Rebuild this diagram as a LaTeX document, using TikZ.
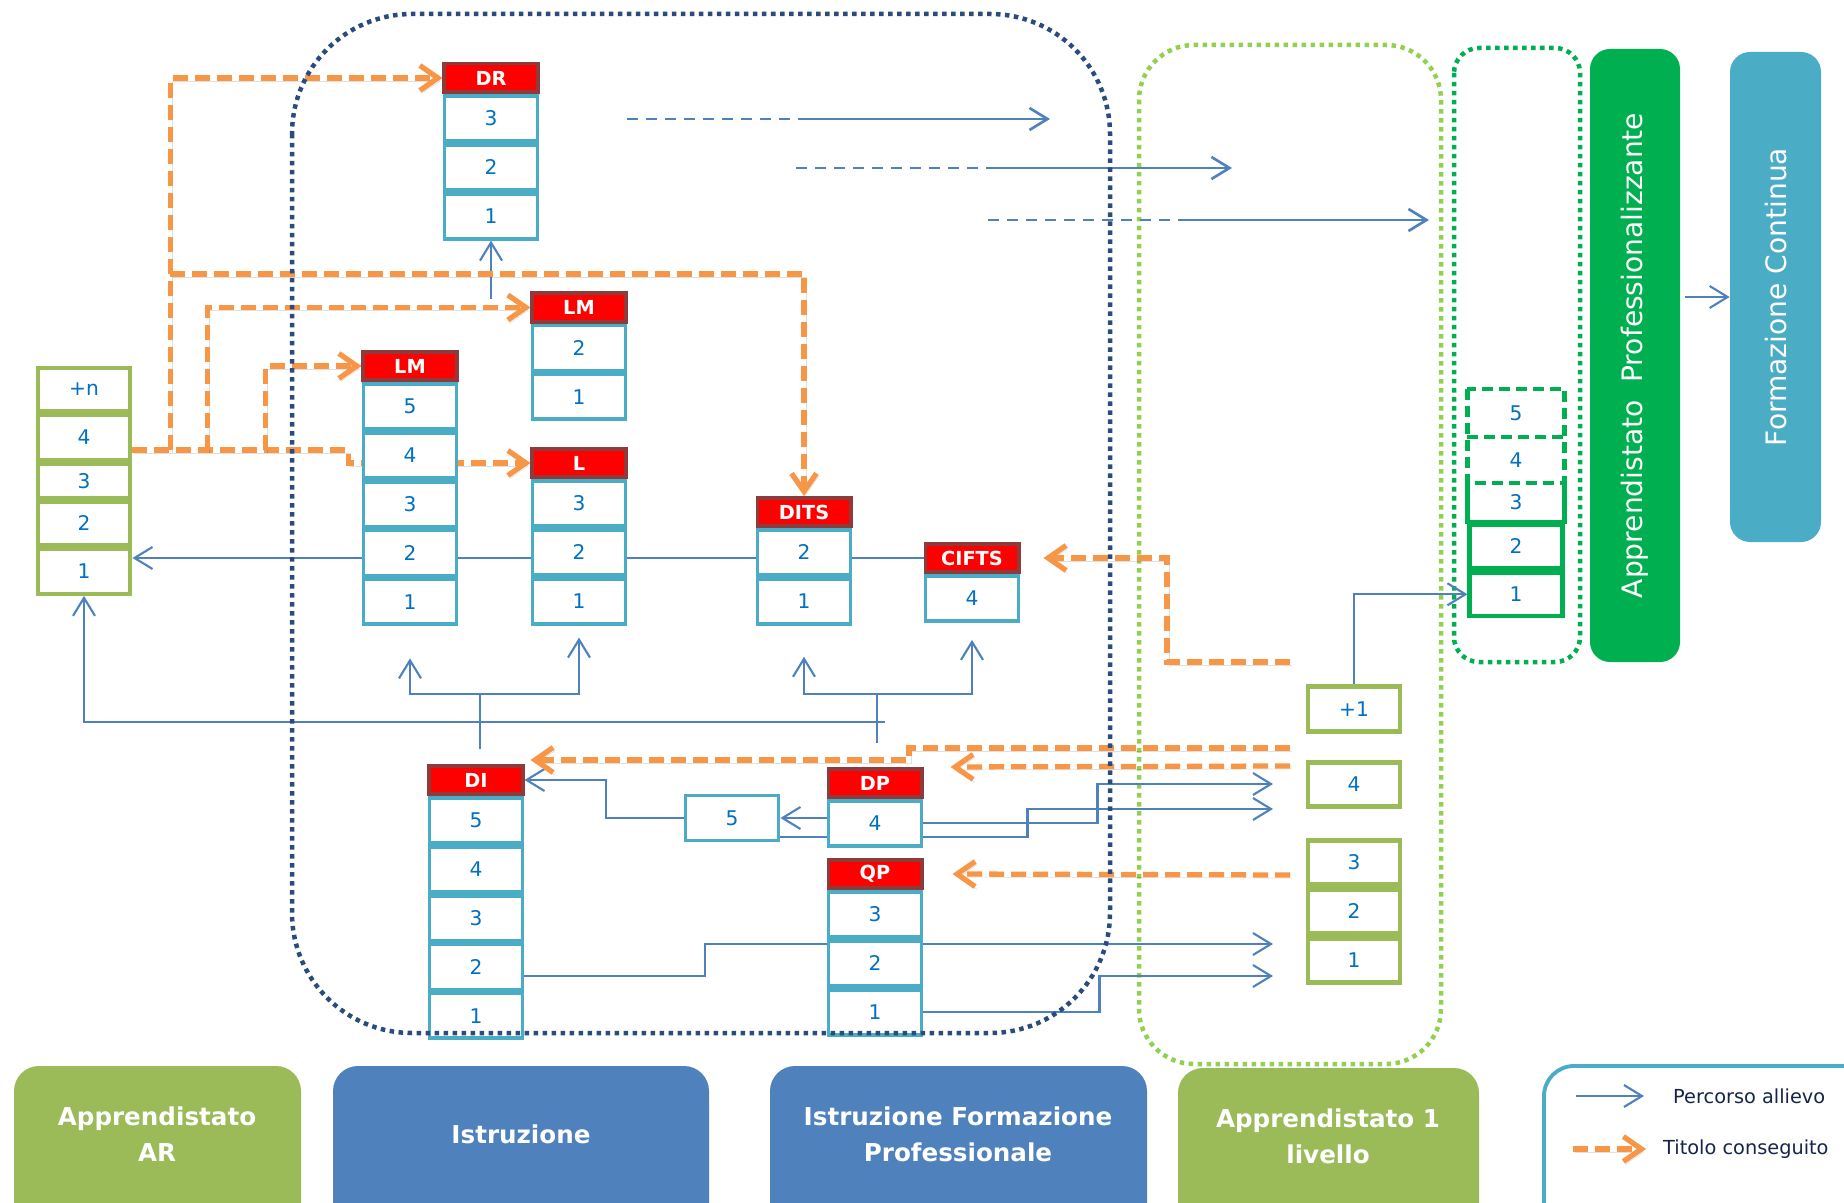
\documentclass[tikz,border=0pt]{standalone}
\usepackage{fontspec}
\setmainfont{DejaVu Sans}
\usepackage{graphicx}
\usepackage{tikz}
\usetikzlibrary{%
	arrows.meta,%
	positioning,%
	backgrounds%
}
\definecolor{Teal}{HTML}{4BACC6}
\definecolor{Olive}{HTML}{9BBB59}
\definecolor{Leaf}{HTML}{00B050}
\definecolor{Lime}{HTML}{92D050}
\definecolor{Steel}{HTML}{4F81BD}
\definecolor{Navy}{HTML}{2A4B7C}
\definecolor{Tangerine}{HTML}{F79646}
\definecolor{Crimson}{HTML}{FF0000}
\definecolor{Maroon}{HTML}{8E3B3B}
\definecolor{Digit}{HTML}{0070C0}
\definecolor{Ink}{HTML}{17244A}

\tikzset{
	cell/.style={draw=Teal,line width=2.2pt,fill=white,minimum width=1.86cm,minimum height=0.90cm,inner sep=0pt,text=Digit,font=\fontsize{11.5}{13}\selectfont},
	head/.style={draw=Maroon,line width=2pt,fill=Crimson,minimum width=1.87cm,minimum height=0.57cm,inner sep=0pt,text=white,font=\bfseries\fontsize{11}{13}\selectfont},
	gcell/.style={cell,draw=Olive,line width=2.4pt,minimum width=1.855cm},
	rcell/.style={cell,draw=Olive,line width=2.8pt,minimum width=1.84cm,minimum height=0.88cm},
	pcell/.style={cell,draw=Leaf,line width=2.6pt,minimum width=1.85cm},
	link/.style={draw=Steel,line width=1.2pt},
	flow/.style={link,-{Straight Barb[length=3.6mm,width=4.4mm]}},
	gained/.style={draw=Tangerine,line width=3pt,dash pattern=on 3mm off 1.4mm,-{Straight Barb[length=3.6mm,width=5mm]},
		preaction={draw=black,opacity=0.12,transform canvas={shift={(0.4mm,-0.6mm)}}}},
	ring/.style={line width=0.9mm,dash pattern=on 0.9mm off 0.9mm},
	boxtext/.style={text=white,align=center,font=\bfseries\fontsize{14}{20.5}\selectfont},
	sidetext/.style={inner sep=0pt,text=white,font=\fontsize{16}{19}\selectfont},
	legendtext/.style={text=Ink,font=\fontsize{11}{13}\selectfont}
}

\begin{document}
\begin{tikzpicture}[x=0.2mm,y=-0.2mm]
\useasboundingbox (0,0) rectangle (1844,1203);

% Istruzione
\node [head] (drh) at (491,78) {DR};
\foreach \n/\p in {3/drh,2/dr3,1/dr2} \node [cell,below=0pt of \p] (dr\n) {\n};
\node [head] (lmbh) at (579,307.5) {LM};
\foreach \n/\p in {2/lmbh,1/lmb2} \node [cell,below=0pt of \p] (lmb\n) {\n};
\node [head] (lmah) at (410,366) {LM};
\foreach \n/\p in {5/lmah,4/lma5,3/lma4,2/lma3,1/lma2} \node [cell,below=0pt of \p] (lma\n) {\n};
\node [head] (lh) at (579,463) {L};
\foreach \n/\p in {3/lh,2/l3,1/l2} \node [cell,below=0pt of \p] (l\n) {\n};
\node [head] (dih) at (476,780) {DI};
\foreach \n/\p in {5/dih,4/di5,3/di4,2/di3,1/di2} \node [cell,below=0pt of \p] (di\n) {\n};

% IeFP
\node [head] (ditsh) at (804,512) {DITS};
\foreach \n/\p in {2/ditsh,1/dits2} \node [cell,below=0pt of \p] (dits\n) {\n};
\node [head] (cifh) at (972,558) {CIFTS};
\node [cell,below=0pt of cifh] (cif4) {4};
\node [head] (dph) at (875,783) {DP};
\node [cell,below=0pt of dph] (dp4) {4};
\node [head] (qph) at (875,874) {QP};
\foreach \n/\p in {3/qph,2/qp3,1/qp2} \node [cell,below=0pt of \p] (qp\n) {\n};
\node [cell] (box5) at (732,818) {5};

% Apprendistato AR
\node [gcell,minimum height=0.855cm] (gn) at (84,389.5) {+n};
\node [gcell,minimum height=0.895cm,below=0pt of gn] (g4) {4};
\node [gcell,minimum height=0.675cm,below=0pt of g4] (g3) {3};
\node [gcell,minimum height=0.855cm,below=0pt of g3] (g2) {2};
\node [gcell,minimum height=0.895cm,below=0pt of g2] (g1) {1};

% Apprendistato 1 livello
\node [rcell,minimum height=0.9cm] (p1) at (1354,709) {+1};
\node [rcell] (a4) at (1354,784.5) {4};
\node [rcell] (c3) at (1354,862.5) {3};
\node [rcell,below=0pt of c3] (c2) {2};
\node [rcell,below=0pt of c2] (c1) {1};

% Apprendistato professionalizzante
\node [pcell,draw=none,minimum height=0.87cm] (pr5) at (1516,413) {5};
\node [pcell,draw=none,minimum height=0.83cm,below=0pt of pr5] (pr4) {4};
\node [pcell,draw=none,minimum height=0.69cm,below=0pt of pr4] (pr3) {3};
\node [pcell,minimum height=0.87cm,below=0pt of pr3] (pr2) {2};
\node [pcell,minimum height=0.87cm,below=0pt of pr2] (pr1) {1};
\draw [Leaf,line width=2.6pt] (pr3.north west) -- (pr3.south west) -- (pr3.south east) -- (pr3.north east);
\draw [Leaf,line width=2.6pt,dash pattern=on 2.2mm off 1.2mm] (pr5.north west) rectangle (pr4.south east);
\draw [Leaf,line width=2.6pt,dash pattern=on 2.2mm off 1.2mm] (pr5.south west) -- (pr5.south east);

\node [fill=Leaf,rounded corners=4mm,minimum width=1.8cm,minimum height=12.26cm,sidetext] (appr) at (1635,355.5) {\rotatebox{90}{Apprendistato\ \ Professionalizzante}};
\node [fill=Teal,rounded corners=4mm,minimum width=1.82cm,minimum height=9.8cm,sidetext] (form) at (1775.5,297) {\rotatebox{90}{Formazione Continua}};
\draw [flow,shorten <=1mm] (appr.east |- form.west) -- (form.west);

\draw [ring,Navy,rounded corners=24mm] (292,14) rectangle (1110,1033);

% bottom legend boxes
\fill [Olive,rounded corners=5mm] (14,1066) rectangle (301,1240);
\node [boxtext] (ar) at (157,1134) {Apprendistato\\AR};
\fill [Steel,rounded corners=5mm] (333,1066) rectangle (709,1240);
\node [boxtext] (istr) at (521,1134) {Istruzione};
\fill [Steel,rounded corners=5mm] (770,1066) rectangle (1147,1240);
\node [boxtext] (iefp) at (958,1134) {Istruzione Formazione\\Professionale};
\fill [Olive,rounded corners=5mm] (1178,1068) rectangle (1479,1240);
\node [boxtext] (app1) at (1328,1136) {Apprendistato 1\\livello};

\draw [Teal,line width=2.2pt,fill=white,rounded corners=6mm] (1544,1066) rectangle (1880,1240);
\coordinate (lgA) at (1576,1096);
\coordinate (lgB) at (1644,1096);
\draw [flow] (lgA) -- (lgB);
\node [legendtext,anchor=west] (lgFlow) at (1667,1096) {Percorso allievo};
\coordinate (lgC) at (1573,1149);
\coordinate (lgD) at (1646,1149);
\draw [gained] (lgC) -- (lgD);
\node [legendtext,anchor=west] (lgGain) at (1657,1149) {Titolo conseguito};

\begin{scope}[on background layer]
\draw [ring,Lime,rounded corners=11mm] (1139,45) rectangle (1441,1064);
\draw [ring,Leaf,rounded corners=5mm] (1454,48) rectangle (1580,662);

% percorsi
\coordinate (t1a) at (627,119);
\coordinate (t1b) at (803,119);
\coordinate (t1c) at (1050,119);
\coordinate (t2a) at (796,168);
\coordinate (t2b) at (988,168);
\coordinate (t2c) at (1232,168);
\coordinate (t3a) at (988,220);
\coordinate (t3b) at (1185,220);
\coordinate (t3c) at (1429,220);
\foreach \i in {1,2,3} {
	\draw [link,line width=1.5pt,dash pattern=on 2.2mm off 1.6mm] (t\i a) -- (t\i b);
	\draw [flow,line width=1.5pt] (t\i b) -- (t\i c);
}

\draw [flow] (cifh.west) -- (cifh.west -| g1.east);
\coordinate (busR) at (885,722);
\draw [flow] (busR) -| (g1.south);

\coordinate (diTop) at (480,749);
\coordinate (diFork) at (480,694);
\coordinate (lmaIn) at ([yshift=-6.4mm]lma1.south);
\coordinate (lIn) at ([yshift=-2.4mm]l1.south);
\draw [link] (diTop) -- (diFork);
\draw [flow] (diFork) -| (lmaIn);
\draw [flow] (diFork) -| (lIn);

\coordinate (dpTop) at (877,743);
\coordinate (dpFork) at (877,694);
\coordinate (ditsIn) at ([yshift=-6.2mm]dits1.south);
\coordinate (cifIn) at ([yshift=-3.4mm]cif4.south);
\draw [link] (dpTop) -- (dpFork);
\draw [flow] (dpFork) -| (ditsIn);
\draw [flow] (dpFork) -| (cifIn);

\coordinate (drFoot) at ([yshift=-11.6mm]dr1.south);
\draw [flow] (drFoot) -- (dr1.south);

\draw [flow] (box5.west) -- ++(-78,0) |- (dih.east);
\draw [flow] (box5.east -| dp4.west) -- (box5.east);
\coordinate (a4u) at (1273,784);
\coordinate (a4d) at (1273,809);
\draw [flow] (dp4.east) -- ++(174,0) |- (a4u);
\draw [flow] ([yshift=1mm]box5.south east) -- ++(247,0) |- (a4d);
\coordinate (a1u) at (1273,944);
\coordinate (a1d) at (1273,976);
\draw [flow] ([yshift=-1.8mm]di2.east) -- ++(181,0) |- (a1u);
\draw [flow] (qp1.east) -- ++(176,0) |- (a1d);
\draw [flow] (p1.north) |- (pr1.west);

% titoli
\coordinate (tA) at ([yshift=-2.5mm]g4.east);
\coordinate (tB) at ([xshift=7.6mm]tA);
\coordinate (tC) at ([xshift=15mm]tA);
\coordinate (tD) at ([xshift=26.6mm]tA);
\coordinate (tE) at ([yshift=35.2mm]tB);
\draw [gained] (tA) -- ++(216,0) |- (lh.west);
\draw [gained] (tB) |- (drh.west);
\draw [gained] (tE) -| (ditsh.north);
\draw [gained] (tC) |- (lmbh.west);
\draw [gained] (tD) |- (lmah.west);

\coordinate (oC) at (1290,662);
\coordinate (oI) at (1290,748);
\coordinate (oP) at (1290,766);
\coordinate (oQ) at (1290,875);
\draw [gained,shorten >=4.6mm] (oC) -- ++(-123,0) |- (cifh.east);
\draw [gained] (oI) -- ++(-381,0) |- ([xshift=1.2mm,yshift=0.8mm]dih.north east);
\draw [gained] (oP) -- ([xshift=5.4mm]dph.north east);
\draw [gained] (oQ) -- ([xshift=5.8mm]qph.east);
\end{scope}
\end{tikzpicture}
\end{document}
